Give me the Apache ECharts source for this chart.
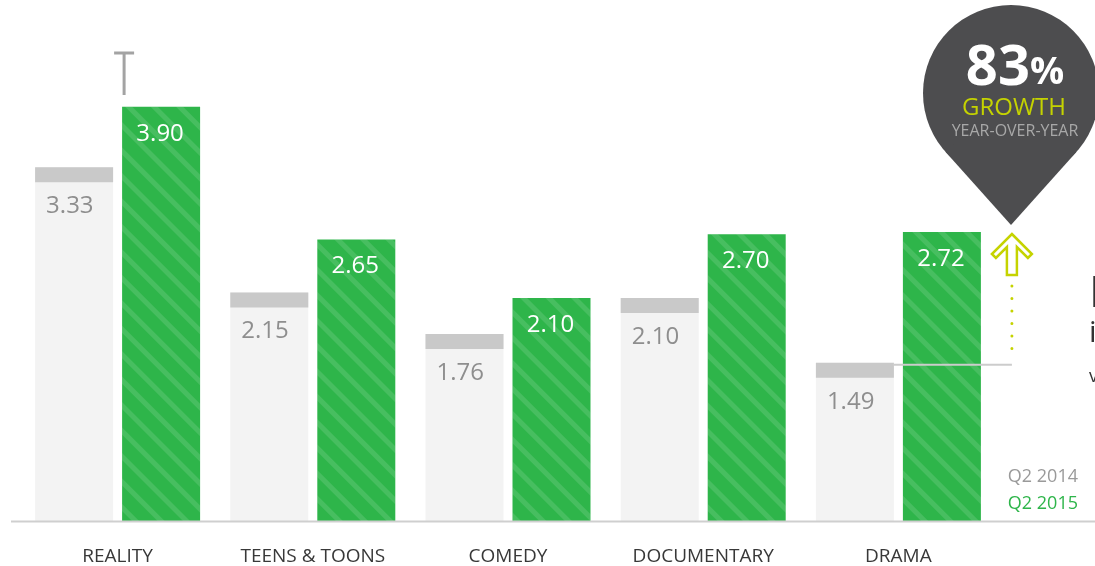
<!DOCTYPE html>
<html>
<head>
<meta charset="utf-8">
<script src="https://cdn.jsdelivr.net/npm/echarts@6/dist/echarts.min.js"></script>
<style>
html,body{margin:0;padding:0;background:#fff;}
#chart{width:1095px;height:566px;}
</style>
</head>
<body>
<div id="chart"></div>
<script>
// ---- data ----
var categories = ['REALITY', 'TEENS & TOONS', 'COMEDY', 'DOCUMENTARY', 'DRAMA'];
var q2_2014 = [3.33, 2.15, 1.76, 2.10, 1.49];
var q2_2015 = [3.90, 2.65, 2.10, 2.70, 2.72];
var seriesNames = ['Q2 2014', 'Q2 2015'];
var growthText = '83';

// ---- styling constants ----
var FONT = "'Open Sans', 'Noto Sans', sans-serif";
var BAR_W = 78, BAR_GAP = 9, CAP_H = 15;
var GREEN = '#2eb54a', GRAY_BAR = '#f3f3f3', CAP = '#c9c9c9';
var LIME = '#c5d300';

var chart = echarts.init(document.getElementById('chart'));

var option = {
  animation: false,
  backgroundColor: '#ffffff',
  grid: { left: 20, right: 99, top: 43, bottom: 44 },
  xAxis: {
    type: 'category',
    data: categories,
    axisLine: { show: false },
    axisTick: { show: false },
    axisLabel: { color: '#383838', fontSize: 19, fontFamily: FONT, margin: 26 }
  },
  yAxis: { type: 'value', min: 0, max: 4.5, show: false, splitLine: { show: false } },
  legend: {
    orient: 'vertical', right: 12, top: 463, itemWidth: 0, itemHeight: 0, itemGap: 9,
    selectedMode: false,
    textStyle: { fontSize: 18, fontFamily: FONT, lineHeight: 18 },
    data: [
      { name: seriesNames[0], icon: 'rect', textStyle: { color: '#9a9a9a' } },
      { name: seriesNames[1], icon: 'rect', textStyle: { color: GREEN } }
    ]
  },
  series: [
    {
      name: seriesNames[0], type: 'bar', barWidth: BAR_W, barGap: (BAR_GAP / BAR_W * 100) + '%',
      data: q2_2014,
      itemStyle: { color: GRAY_BAR },
      label: {
        show: true, position: [11, 27], color: '#8e8e8e', fontSize: 24, fontFamily: FONT,
        formatter: function (p) { return p.value.toFixed(2); }
      },
      z: 2
    },
    {
      name: seriesNames[1], type: 'bar', barWidth: BAR_W,
      data: q2_2015,
      itemStyle: {
        color: GREEN,
        decal: {
          symbol: 'rect', symbolSize: 1, dashArrayX: [1, 0], dashArrayY: [5, 13],
          rotation: Math.PI / 4, color: 'rgba(255,255,255,0.12)'
        }
      },
      label: {
        show: true, position: 'insideTop', distance: 15, offset: [-1, 0], color: '#ffffff',
        fontSize: 24, fontFamily: FONT,
        formatter: function (p) { return p.value.toFixed(2); }
      },
      z: 2
    },
    {
      name: 'cap', type: 'custom', z: 3, silent: true,
      data: q2_2014.map(function (v, i) { return [i, v]; }),
      renderItem: function (params, api) {
        var pt = api.coord([api.value(0), api.value(1)]);
        return {
          type: 'rect',
          shape: { x: pt[0] - BAR_W - BAR_GAP / 2, y: pt[1], width: BAR_W, height: CAP_H },
          style: { fill: CAP }
        };
      }
    }
  ]
};
chart.setOption(option);

// ---- annotations, positioned from the axis scales ----
function px(catIdx, val) { return chart.convertToPixel({ gridIndex: 0 }, [catIdx, val]); }
var base = px(0, 0);
var last = categories.length - 1;
var dramaOld = px(last, q2_2014[last]);
var arrowX = dramaOld[0] + BAR_W + BAR_GAP / 2 + 31;
var reality = px(0, q2_2015[0]);
var tX = reality[0] + BAR_GAP / 2 + 1;

// pin geometry
var cx = 1011, cy = 93, r = 88, tipY = 225;
var d = tipY - cy, ca = r / d, sa = Math.sqrt(1 - ca * ca);
var t1x = cx - r * sa, t2x = cx + r * sa, ty = cy + r * ca;

var ax = arrowX, aTop = 234;
var arrowPts = [[ax, aTop], [ax + 20, aTop + 20], [ax + 16, aTop + 24], [ax + 5, aTop + 13],
  [ax + 5, aTop + 41], [ax - 5, aTop + 41], [ax - 5, aTop + 13], [ax - 16, aTop + 24], [ax - 20, aTop + 20]];

chart.setOption({
  graphic: [
    { type: 'line', z: 10, shape: { x1: 11, y1: base[1] + 0.5, x2: 1095, y2: base[1] + 0.5 },
      style: { stroke: '#cfcfcf', lineWidth: 2 } },
    // growth connector
    { type: 'line', z: 10, shape: { x1: dramaOld[0] - BAR_GAP / 2, y1: dramaOld[1] + 2, x2: ax, y2: dramaOld[1] + 2 },
      style: { stroke: '#cccccc', lineWidth: 2 } },
    { type: 'line', z: 10, shape: { x1: ax, y1: aTop + 52, x2: ax, y2: dramaOld[1] - 4 },
      style: { stroke: LIME, lineWidth: 3, lineDash: [0.1, 12.4], lineCap: 'round' } },
    { type: 'polygon', z: 10, shape: { points: arrowPts },
      style: { fill: '#ffffff', stroke: LIME, lineWidth: 2.5, lineJoin: 'miter' } },
    // pin
    { type: 'circle', z: 10, shape: { cx: cx, cy: cy, r: r }, style: { fill: '#4d4d4f' } },
    { type: 'polygon', z: 10, shape: { points: [[cx, tipY], [t1x, ty], [cx, cy], [t2x, ty]] }, style: { fill: '#4d4d4f' } },
    { type: 'text', z: 11, x: 1015, y: 69,
      style: { text: '{a|' + growthText + '}{b|%}', align: 'center', verticalAlign: 'middle',
        rich: {
          a: { fontSize: 56, fontWeight: 'bold', fill: '#ffffff', fontFamily: FONT },
          b: { fontSize: 38, fontWeight: 'bold', fill: '#ffffff', fontFamily: FONT, padding: [8, 0, 0, 0] }
        } } },
    { type: 'text', z: 11, x: 1014, y: 108,
      style: { text: 'GROWTH', align: 'center', verticalAlign: 'middle', fontSize: 24, fill: LIME, fontFamily: FONT } },
    { type: 'text', z: 11, x: 1015, y: 131,
      style: { text: 'YEAR-OVER-YEAR', align: 'center', verticalAlign: 'middle', fontSize: 16, fill: '#a8a8a8', fontFamily: FONT } },
    // T glyph above first bar
    { type: 'line', z: 10, shape: { x1: tX - 9, y1: 53, x2: tX + 11, y2: 53 },
      style: { stroke: '#a3a3a3', lineWidth: 3 } },
    { type: 'line', z: 10, shape: { x1: tX + 1, y1: 53, x2: tX + 1, y2: 95 },
      style: { stroke: '#a3a3a3', lineWidth: 3 } },
    // clipped text at right edge
    { type: 'text', z: 10, x: 1089, y: 294, style: { text: 'I', verticalAlign: 'middle', fontSize: 44, fill: '#333333', fontFamily: FONT } },
    { type: 'text', z: 10, x: 1089, y: 333, style: { text: 'i', verticalAlign: 'middle', fontSize: 30, fill: '#333333', fontFamily: FONT } },
    { type: 'text', z: 10, x: 1089, y: 377, style: { text: 'v', verticalAlign: 'middle', fontSize: 18, fill: '#333333', fontFamily: FONT } }
  ]
});
</script>
</body>
</html>
